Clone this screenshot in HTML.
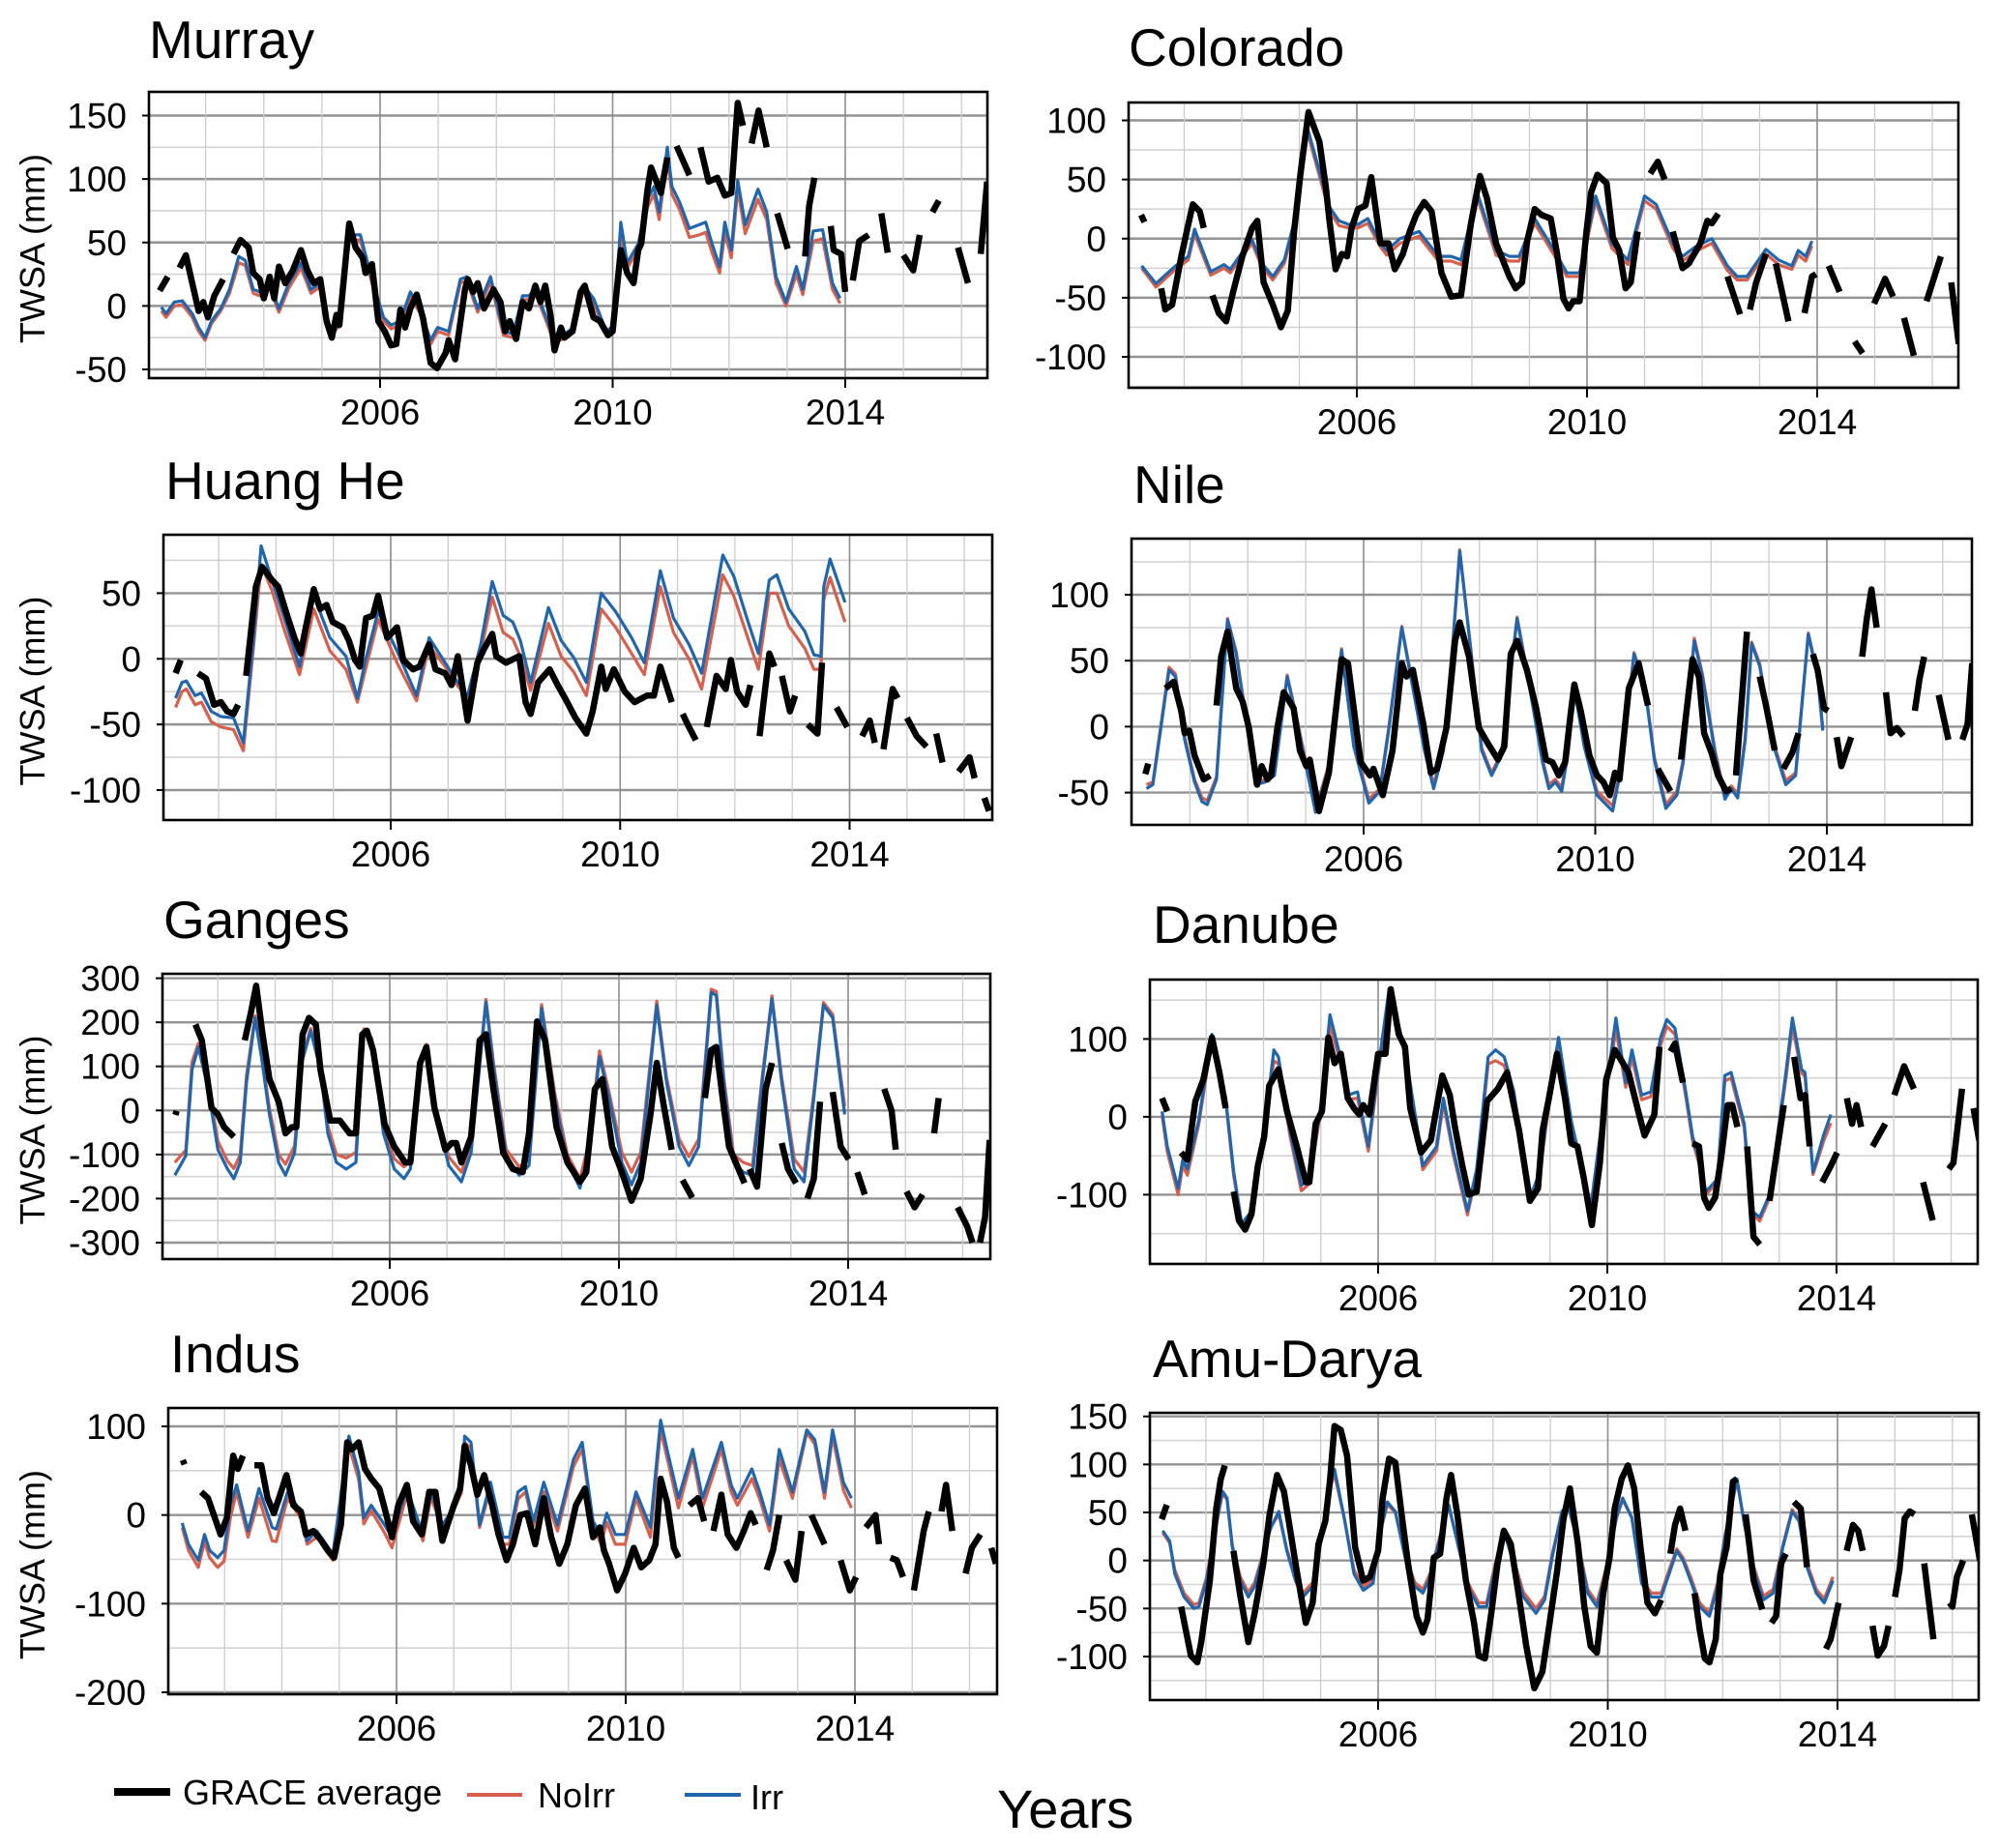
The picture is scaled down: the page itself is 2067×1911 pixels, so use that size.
<!DOCTYPE html>
<html><head><meta charset="utf-8"><title>TWSA basins</title>
<style>
html,body{margin:0;padding:0;background:#fff}
svg{display:block}
text{font-family:"Liberation Sans",sans-serif;fill:#000}
</style></head>
<body>
<svg id="fig" width="2067" height="1911" viewBox="0 0 2067 1911" xmlns="http://www.w3.org/2000/svg">
<rect x="0" y="0" width="2067" height="1911" fill="#fff"/>
<g id="panels"></g>
<g>
  <line x1="118" y1="1853" x2="176" y2="1853" stroke="#000" stroke-width="8"/>
  <text x="189" y="1866" font-size="36" font-family="DejaVu Sans, sans-serif">GRACE average</text>
  <line x1="483" y1="1856" x2="540" y2="1856" stroke="#d6604d" stroke-width="4"/>
  <text x="556" y="1869" font-size="36" font-family="DejaVu Sans, sans-serif">NoIrr</text>
  <line x1="708" y1="1856" x2="766" y2="1856" stroke="#2166ac" stroke-width="4"/>
  <text x="776" y="1871" font-size="36" font-family="DejaVu Sans, sans-serif">Irr</text>
</g>
<text x="1031" y="1890" font-size="56">Years</text>
</svg>
<script>
const xTickYears=[2006,2010,2014];
const murrayTicks=[-50,0,50,100,150];
const coloradoTicks=[-100,-50,0,50,100];
const huangTicks=[-100,-50,0,50];
const nileTicks=[-50,0,50,100];
const gangesTicks=[-300,-200,-100,0,100,200,300];
const danubeTicks=[-100,0,100];
const indusTicks=[-200,-100,0,100];
const amuTicks=[-100,-50,0,50,100,150];

const murrayGrace=[[2002.21,12],[2002.35,23],[2002.45,null],[2002.55,30],[2002.66,40],[2002.77,18],[2002.88,-4],[2002.96,3],[2003.04,-9],[2003.15,8],[2003.3,21],[2003.39,null],[2003.48,41],[2003.6,52],[2003.74,46],[2003.82,26],[2003.93,21],[2004.0,6],[2004.1,23],[2004.18,6],[2004.26,31],[2004.37,18],[2004.5,28],[2004.64,44],[2004.75,28],[2004.86,18],[2004.97,21],[2005.08,-12],[2005.17,-25],[2005.25,-7],[2005.3,-15],[2005.47,65],[2005.58,46],[2005.7,38],[2005.75,26],[2005.86,33],[2005.97,-12],[2006.08,-20],[2006.19,-31],[2006.28,-30],[2006.35,-3],[2006.43,-17],[2006.52,-2],[2006.63,9],[2006.74,-10],[2006.87,-45],[2006.98,-49],[2007.13,-37],[2007.18,-27],[2007.29,-42],[2007.46,13],[2007.51,21],[2007.6,11],[2007.68,18],[2007.79,-2],[2007.95,13],[2008.07,3],[2008.15,-20],[2008.23,-12],[2008.34,-26],[2008.45,3],[2008.56,-2],[2008.67,16],[2008.76,3],[2008.84,16],[2008.93,-7],[2009.0,-35],[2009.11,-17],[2009.17,-25],[2009.31,-20],[2009.45,11],[2009.52,16],[2009.67,-9],[2009.78,-12],[2009.92,-23],[2010.0,-20],[2010.14,44],[2010.25,26],[2010.36,18],[2010.44,44],[2010.49,49],[2010.6,92],[2010.66,109],[2010.83,89],[2010.94,117],[2011.02,null],[2011.1,126],[2011.32,103],[2011.4,null],[2011.51,125],[2011.65,98],[2011.8,101],[2011.93,87],[2012.04,89],[2012.15,160],[2012.24,142],[2012.3,null],[2012.39,128],[2012.51,154],[2012.65,125],[2012.74,null],[2012.83,73],[2013.01,45],[2013.2,null],[2013.31,39],[2013.38,79],[2013.47,101],[2013.6,null],[2013.75,63],[2013.8,44],[2013.93,41],[2014.0,11],[2014.06,null],[2014.13,20],[2014.24,51],[2014.4,56],[2014.5,null],[2014.62,73],[2014.73,42],[2014.85,null],[2015.0,40],[2015.17,28],[2015.28,56],[2015.4,null],[2015.5,74],[2015.61,83],[2015.8,null],[2015.94,46],[2016.11,18],[2016.2,null],[2016.33,41],[2016.44,98]];
const murrayIrr=[[2002.24,-1],[2002.32,-6],[2002.46,3],[2002.6,4],[2002.77,-6],[2002.88,-17],[2002.99,-25],[2003.1,-12],[2003.26,-2],[2003.41,13],[2003.57,39],[2003.68,36],[2003.82,13],[2003.93,11],[2004.09,18],[2004.26,-2],[2004.43,18],[2004.64,34],[2004.81,13],[2004.97,18],[2005.14,-22],[2005.3,-12],[2005.47,56],[2005.66,56],[2005.86,21],[2006.06,-9],[2006.19,-15],[2006.35,-12],[2006.52,11],[2006.68,-2],[2006.87,-27],[2006.99,-17],[2007.18,-20],[2007.38,21],[2007.49,23],[2007.68,-2],[2007.9,23],[2008.12,-20],[2008.29,-22],[2008.45,8],[2008.56,8],[2008.67,13],[2008.84,-7],[2009.0,-27],[2009.17,-22],[2009.33,-17],[2009.5,16],[2009.67,6],[2009.89,-20],[2010.03,-15],[2010.14,66],[2010.25,34],[2010.44,49],[2010.6,84],[2010.71,94],[2010.8,74],[2010.94,125],[2011.02,94],[2011.15,82],[2011.32,61],[2011.49,64],[2011.6,66],[2011.71,49],[2011.84,31],[2011.93,66],[2012.04,44],[2012.15,99],[2012.28,64],[2012.5,92],[2012.65,74],[2012.81,23],[2012.98,3],[2013.16,31],[2013.27,13],[2013.45,59],[2013.61,60],[2013.78,18],[2013.91,6]];
const murrayNoIrr=[[2002.24,-4],[2002.32,-9],[2002.46,0],[2002.6,1],[2002.77,-9],[2002.88,-20],[2002.99,-27],[2003.1,-14],[2003.26,-4],[2003.41,10],[2003.57,34],[2003.68,32],[2003.82,10],[2003.93,8],[2004.09,15],[2004.26,-5],[2004.43,14],[2004.64,30],[2004.81,10],[2004.97,15],[2005.14,-25],[2005.3,-15],[2005.47,52],[2005.66,52],[2005.86,18],[2006.06,-12],[2006.19,-18],[2006.35,-15],[2006.52,7],[2006.68,-5],[2006.87,-30],[2006.99,-20],[2007.18,-23],[2007.38,18],[2007.49,20],[2007.68,-5],[2007.9,19],[2008.12,-23],[2008.29,-25],[2008.45,5],[2008.56,5],[2008.67,10],[2008.84,-10],[2009.0,-30],[2009.17,-25],[2009.33,-20],[2009.5,13],[2009.67,3],[2009.89,-23],[2010.03,-18],[2010.14,58],[2010.25,30],[2010.44,44],[2010.6,78],[2010.71,88],[2010.8,68],[2010.94,118],[2011.02,88],[2011.15,76],[2011.32,54],[2011.49,56],[2011.6,58],[2011.71,42],[2011.84,26],[2011.93,58],[2012.04,38],[2012.15,92],[2012.28,57],[2012.5,84],[2012.65,68],[2012.81,18],[2012.98,0],[2013.16,25],[2013.27,9],[2013.45,51],[2013.61,53],[2013.78,13],[2013.91,2]];

const coloradoGrace=[[2002.25,20],[2002.31,14],[2002.45,null],[2002.6,-42],[2002.67,-60],[2002.79,-56],[2002.95,-15],[2003.07,12],[2003.15,29],[2003.27,23],[2003.34,9],[2003.42,null],[2003.49,-48],[2003.6,-63],[2003.73,-70],[2003.85,-45],[2004.01,-15],[2004.18,9],[2004.27,15],[2004.38,-37],[2004.54,-56],[2004.68,-75],[2004.8,-61],[2004.91,6],[2005.02,55],[2005.16,107],[2005.35,82],[2005.46,44],[2005.52,17],[2005.63,-26],[2005.74,-13],[2005.83,-15],[2005.91,9],[2006.02,25],[2006.15,28],[2006.25,52],[2006.41,-4],[2006.55,-4],[2006.66,-26],[2006.8,-13],[2006.92,6],[2007.03,20],[2007.17,31],[2007.3,23],[2007.47,-29],[2007.64,-49],[2007.81,-48],[2007.98,12],[2008.14,53],[2008.26,34],[2008.42,-4],[2008.65,-32],[2008.76,-42],[2008.87,-37],[2008.96,-2],[2009.09,25],[2009.21,20],[2009.37,17],[2009.48,-13],[2009.59,-51],[2009.68,-59],[2009.76,-53],[2009.87,-53],[2009.99,6],[2010.07,39],[2010.18,54],[2010.34,47],[2010.45,1],[2010.56,-10],[2010.67,-42],[2010.76,-37],[2010.88,6],[2010.98,null],[2011.1,55],[2011.23,65],[2011.35,50],[2011.42,null],[2011.49,6],[2011.66,-25],[2011.77,-21],[2011.97,-4],[2012.09,15],[2012.17,13],[2012.28,21],[2012.36,null],[2012.44,-32],[2012.66,-64],[2012.75,null],[2012.83,-60],[2012.94,-37],[2013.11,-13],[2013.2,null],[2013.28,-21],[2013.5,-70],[2013.65,null],[2013.78,-63],[2013.91,-32],[2013.98,-30],[2014.1,null],[2014.2,-23],[2014.39,-45],[2014.52,null],[2014.65,-87],[2014.79,-97],[2014.9,null],[2014.99,-55],[2015.18,-34],[2015.32,-49],[2015.42,null],[2015.51,-67],[2015.68,-99],[2015.8,null],[2015.9,-53],[2016.15,-15],[2016.25,null],[2016.33,-37],[2016.46,-89]];
const coloradoIrr=[[2002.26,-23],[2002.51,-38],[2002.85,-23],[2003.07,-15],[2003.18,8],[2003.46,-28],[2003.69,-22],[2003.8,-26],[2003.96,-15],[2004.18,-1],[2004.35,-21],[2004.54,-32],[2004.74,-18],[2004.97,25],[2005.13,96],[2005.52,27],[2005.69,15],[2005.86,12],[2006.02,12],[2006.19,17],[2006.41,-4],[2006.52,-10],[2006.75,0],[2007.08,6],[2007.42,-15],[2007.64,-15],[2007.81,-18],[2008.09,39],[2008.42,-10],[2008.65,-15],[2008.82,-15],[2009.09,17],[2009.43,-10],[2009.65,-29],[2009.87,-29],[2010.15,36],[2010.43,-4],[2010.71,-18],[2011.0,36],[2011.2,29],[2011.49,-4],[2011.66,-15],[2011.88,-7],[2012.17,0],[2012.44,-23],[2012.61,-32],[2012.78,-32],[2013.11,-9],[2013.33,-18],[2013.56,-23],[2013.67,-10],[2013.8,-15],[2013.91,-2]];
const coloradoNoIrr=[[2002.26,-25],[2002.51,-41],[2002.85,-26],[2003.07,-18],[2003.18,4],[2003.46,-31],[2003.69,-25],[2003.8,-29],[2003.96,-18],[2004.18,-4],[2004.35,-24],[2004.54,-35],[2004.74,-21],[2004.97,21],[2005.13,92],[2005.52,23],[2005.69,11],[2005.86,9],[2006.02,9],[2006.19,13],[2006.41,-7],[2006.52,-14],[2006.75,-4],[2007.08,2],[2007.42,-19],[2007.64,-19],[2007.81,-22],[2008.09,35],[2008.42,-14],[2008.65,-19],[2008.82,-19],[2009.09,13],[2009.43,-14],[2009.65,-32],[2009.87,-32],[2010.15,32],[2010.43,-8],[2010.71,-22],[2011.0,32],[2011.2,25],[2011.49,-8],[2011.66,-19],[2011.88,-11],[2012.17,-4],[2012.44,-27],[2012.61,-35],[2012.78,-35],[2013.11,-13],[2013.33,-22],[2013.56,-26],[2013.67,-14],[2013.8,-19],[2013.91,-6]];

const huangGrace=[[2002.25,-11],[2002.34,-1],[2002.5,null],[2002.64,-11],[2002.78,-15],[2002.92,-35],[2003.04,-33],[2003.15,-40],[2003.26,-42],[2003.34,-35],[2003.41,null],[2003.48,-13],[2003.65,55],[2003.76,70],[2003.93,60],[2004.04,55],[2004.21,31],[2004.32,16],[2004.43,4],[2004.52,24],[2004.66,53],[2004.77,38],[2004.88,41],[2004.99,28],[2005.16,24],[2005.27,14],[2005.38,-1],[2005.46,-6],[2005.57,31],[2005.69,33],[2005.78,48],[2005.94,16],[2006.11,24],[2006.22,-1],[2006.39,-8],[2006.5,-6],[2006.67,11],[2006.78,-8],[2006.95,-11],[2007.06,-20],[2007.17,2],[2007.34,-47],[2007.51,-3],[2007.62,7],[2007.77,19],[2007.84,2],[2008.01,-3],[2008.24,2],[2008.35,-33],[2008.44,-42],[2008.57,-18],[2008.77,-8],[2008.91,-20],[2009.04,-30],[2009.22,-45],[2009.41,-57],[2009.52,-40],[2009.67,-6],[2009.75,-23],[2009.89,-8],[2010.08,-25],[2010.25,-33],[2010.47,-28],[2010.59,-28],[2010.7,-6],[2010.9,-33],[2011.0,null],[2011.09,-42],[2011.2,-52],[2011.32,-62],[2011.42,null],[2011.51,-52],[2011.68,-13],[2011.84,-23],[2011.93,-1],[2012.04,-25],[2012.19,-35],[2012.27,-20],[2012.35,null],[2012.43,-59],[2012.6,4],[2012.69,-6],[2012.75,null],[2012.82,-13],[2012.96,-40],[2013.05,-28],[2013.16,null],[2013.27,-50],[2013.44,-57],[2013.52,-3],[2013.65,null],[2013.77,-37],[2013.96,-52],[2014.1,null],[2014.22,-59],[2014.35,-47],[2014.44,-64],[2014.52,null],[2014.59,-69],[2014.75,-23],[2014.84,-30],[2014.92,null],[2015.0,-45],[2015.17,-59],[2015.34,-67],[2015.42,null],[2015.51,-57],[2015.62,-79],[2015.78,null],[2015.9,-86],[2016.09,-75],[2016.18,-91],[2016.27,null],[2016.35,-106],[2016.43,-116]];
const huangIrr=[[2002.25,-30],[2002.36,-18],[2002.44,-17],[2002.59,-28],[2002.7,-26],[2002.87,-40],[2003.04,-44],[2003.26,-45],[2003.43,-64],[2003.6,11],[2003.74,86],[2003.93,60],[2004.16,29],[2004.41,-6],[2004.66,48],[2004.94,16],[2005.22,2],[2005.42,-30],[2005.55,-3],[2005.78,36],[2006.11,6],[2006.45,-28],[2006.67,16],[2006.95,-3],[2007.12,-15],[2007.34,-28],[2007.57,11],[2007.77,59],[2007.96,33],[2008.13,28],[2008.26,14],[2008.44,-18],[2008.75,39],[2008.97,14],[2009.19,1],[2009.41,-18],[2009.67,50],[2009.92,36],[2010.2,16],[2010.42,-3],[2010.7,67],[2010.93,31],[2011.2,11],[2011.42,-11],[2011.79,79],[2011.98,63],[2012.21,31],[2012.41,4],[2012.6,60],[2012.73,64],[2012.94,38],[2013.22,21],[2013.38,3],[2013.5,2],[2013.55,55],[2013.66,76],[2013.92,43]];
const huangNoIrr=[[2002.25,-37],[2002.36,-25],[2002.44,-23],[2002.59,-35],[2002.7,-33],[2002.87,-48],[2003.04,-52],[2003.26,-54],[2003.43,-70],[2003.6,5],[2003.74,72],[2003.93,52],[2004.16,20],[2004.41,-12],[2004.66,38],[2004.94,6],[2005.22,-8],[2005.42,-33],[2005.55,-10],[2005.78,30],[2006.11,-3],[2006.45,-32],[2006.67,10],[2006.95,-6],[2007.12,-18],[2007.34,-30],[2007.57,5],[2007.77,47],[2007.96,20],[2008.13,15],[2008.26,2],[2008.44,-24],[2008.75,27],[2008.97,2],[2009.19,-10],[2009.41,-28],[2009.67,38],[2009.92,24],[2010.2,4],[2010.42,-12],[2010.7,55],[2010.93,20],[2011.2,0],[2011.42,-23],[2011.79,64],[2011.98,48],[2012.21,18],[2012.41,-8],[2012.6,50],[2012.73,50],[2012.94,25],[2013.22,8],[2013.38,-8],[2013.5,-8],[2013.55,45],[2013.66,62],[2013.92,28]];

const nileGrace=[[2002.23,-36],[2002.28,-28],[2002.45,null],[2002.58,29],[2002.72,34],[2002.85,12],[2002.91,-5],[2002.99,-3],[2003.08,-22],[2003.24,-40],[2003.35,-37],[2003.41,null],[2003.46,16],[2003.54,53],[2003.65,72],[2003.8,29],[2003.91,19],[2004.02,-1],[2004.16,-44],[2004.24,-30],[2004.34,-40],[2004.4,-37],[2004.51,-1],[2004.62,26],[2004.79,14],[2004.9,-18],[2005.01,-30],[2005.07,-25],[2005.23,-64],[2005.4,-35],[2005.62,51],[2005.73,48],[2005.95,-27],[2006.11,-37],[2006.17,-32],[2006.33,-52],[2006.5,-18],[2006.66,48],[2006.74,38],[2006.85,43],[2007.03,2],[2007.16,-35],[2007.27,-32],[2007.43,-1],[2007.58,65],[2007.66,79],[2007.82,53],[2007.99,-1],[2008.15,-13],[2008.32,-25],[2008.43,-15],[2008.54,55],[2008.65,65],[2008.82,43],[2008.98,14],[2009.15,-25],[2009.26,-27],[2009.37,-37],[2009.48,-27],[2009.57,8],[2009.64,32],[2009.75,12],[2009.9,-22],[2010.03,-37],[2010.14,-42],[2010.25,-52],[2010.34,-35],[2010.42,-40],[2010.58,29],[2010.75,48],[2010.91,16],[2011.0,null],[2011.08,-32],[2011.3,-49],[2011.4,null],[2011.48,-25],[2011.68,51],[2011.79,38],[2011.88,-5],[2012.01,-20],[2012.12,-37],[2012.26,-49],[2012.35,-47],[2012.39,null],[2012.43,-37],[2012.62,72],[2012.72,null],[2012.84,38],[2012.95,16],[2013.1,-18],[2013.17,null],[2013.25,-32],[2013.4,-20],[2013.51,-5],[2013.63,null],[2013.76,55],[2013.84,43],[2013.95,14],[2014.02,12],[2014.1,null],[2014.17,-8],[2014.25,-30],[2014.42,-8],[2014.52,null],[2014.61,53],[2014.69,82],[2014.77,104],[2014.86,75],[2014.94,null],[2015.02,26],[2015.1,-5],[2015.21,-1],[2015.32,-7],[2015.42,null],[2015.52,12],[2015.6,36],[2015.68,53],[2015.8,null],[2015.93,24],[2016.1,-10],[2016.22,null],[2016.34,-10],[2016.43,2],[2016.51,48]];
const nileIrr=[[2002.25,-47],[2002.36,-44],[2002.64,43],[2002.75,38],[2002.91,-10],[2003.08,-42],[2003.21,-57],[2003.3,-59],[2003.46,-40],[2003.65,81],[2003.8,55],[2004.02,-10],[2004.13,-44],[2004.3,-42],[2004.46,-37],[2004.68,38],[2004.85,4],[2005.04,-37],[2005.17,-65],[2005.39,-32],[2005.62,58],[2005.83,-15],[2006.09,-58],[2006.28,-49],[2006.44,-1],[2006.66,75],[2006.83,34],[2007.05,-18],[2007.21,-47],[2007.38,-18],[2007.55,68],[2007.66,133],[2007.82,70],[2008.04,-18],[2008.21,-37],[2008.38,-22],[2008.65,82],[2008.87,29],[2009.09,-27],[2009.2,-47],[2009.31,-42],[2009.42,-49],[2009.53,-20],[2009.64,29],[2009.81,-15],[2010.03,-52],[2010.3,-64],[2010.47,-27],[2010.67,55],[2010.86,29],[2011.02,-25],[2011.22,-62],[2011.41,-52],[2011.52,-27],[2011.71,65],[2011.85,38],[2012.07,-20],[2012.24,-55],[2012.35,-47],[2012.46,-54],[2012.59,-10],[2012.7,63],[2012.84,46],[2013.07,-13],[2013.29,-44],[2013.46,-37],[2013.68,70],[2013.84,38],[2013.93,-3]];
const nileNoIrr=[[2002.25,-44],[2002.36,-42],[2002.64,45],[2002.75,40],[2002.91,-8],[2003.08,-40],[2003.21,-54],[2003.3,-56],[2003.46,-38],[2003.65,82],[2003.8,57],[2004.02,-8],[2004.13,-42],[2004.3,-40],[2004.46,-35],[2004.68,39],[2004.85,6],[2005.04,-35],[2005.17,-63],[2005.39,-30],[2005.62,59],[2005.83,-13],[2006.09,-55],[2006.28,-47],[2006.44,1],[2006.66,76],[2006.83,36],[2007.05,-16],[2007.21,-44],[2007.38,-16],[2007.55,69],[2007.66,134],[2007.82,71],[2008.04,-16],[2008.21,-35],[2008.38,-20],[2008.65,83],[2008.87,31],[2009.09,-25],[2009.2,-44],[2009.31,-40],[2009.42,-46],[2009.53,-18],[2009.64,31],[2009.81,-13],[2010.03,-49],[2010.3,-60],[2010.47,-25],[2010.67,56],[2010.86,31],[2011.02,-23],[2011.22,-59],[2011.41,-49],[2011.52,-25],[2011.71,67],[2011.85,40],[2012.07,-18],[2012.24,-52],[2012.35,-45],[2012.46,-51],[2012.59,-8],[2012.7,64],[2012.84,48],[2013.07,-11],[2013.29,-41],[2013.46,-35],[2013.68,71],[2013.84,40],[2013.93,-1]];

const gangesGrace=[[2002.26,-10],[2002.28,-1],[2002.45,null],[2002.61,195],[2002.72,159],[2002.89,6],[2003.0,-9],[2003.11,-38],[2003.28,-60],[2003.38,null],[2003.47,159],[2003.58,224],[2003.67,283],[2003.78,173],[2003.9,71],[2004.06,20],[2004.18,-52],[2004.29,-38],[2004.37,-38],[2004.48,173],[2004.59,210],[2004.71,195],[2004.79,93],[2004.96,-23],[2005.13,-23],[2005.3,-52],[2005.41,-52],[2005.52,173],[2005.6,181],[2005.71,137],[2005.91,-31],[2006.08,-82],[2006.27,-118],[2006.36,-118],[2006.53,108],[2006.64,144],[2006.78,6],[2006.97,-89],[2007.08,-74],[2007.16,-74],[2007.25,-118],[2007.42,-60],[2007.57,159],[2007.68,173],[2007.81,49],[2007.98,-96],[2008.15,-133],[2008.32,-140],[2008.43,-52],[2008.57,202],[2008.71,159],[2008.91,-38],[2009.1,-118],[2009.32,-162],[2009.43,-140],[2009.58,49],[2009.71,71],[2009.88,-82],[2010.05,-140],[2010.22,-205],[2010.38,-155],[2010.55,-9],[2010.66,108],[2010.78,13],[2010.92,-89],[2011.0,null],[2011.11,-158],[2011.28,-198],[2011.4,null],[2011.5,28],[2011.61,137],[2011.7,144],[2011.81,28],[2011.92,-82],[2012.06,-125],[2012.19,-165],[2012.24,null],[2012.28,-133],[2012.41,-173],[2012.56,49],[2012.67,108],[2012.76,null],[2012.84,-74],[2012.95,-133],[2013.09,-165],[2013.2,null],[2013.29,-200],[2013.4,-155],[2013.51,20],[2013.62,null],[2013.73,42],[2013.87,-82],[2014.01,-111],[2014.08,null],[2014.16,-140],[2014.29,-191],[2014.45,null],[2014.63,49],[2014.76,-1],[2014.83,-89],[2014.93,null],[2015.02,-184],[2015.16,-220],[2015.3,-191],[2015.4,null],[2015.5,-52],[2015.58,28],[2015.75,null],[2015.91,-220],[2016.08,-264],[2016.17,-300],[2016.23,null],[2016.3,-300],[2016.39,-242],[2016.47,-67]];
const gangesIrr=[[2002.25,-147],[2002.44,-103],[2002.55,93],[2002.66,144],[2002.83,49],[2003.0,-89],[2003.17,-133],[2003.28,-155],[2003.39,-118],[2003.5,64],[2003.65,210],[2003.76,122],[2003.9,-9],[2004.06,-118],[2004.18,-147],[2004.34,-96],[2004.48,115],[2004.62,181],[2004.79,93],[2004.92,-52],[2005.07,-118],[2005.24,-133],[2005.41,-118],[2005.55,181],[2005.69,159],[2005.89,-52],[2006.08,-133],[2006.25,-155],[2006.36,-133],[2006.53,93],[2006.64,144],[2006.81,-9],[2007.03,-125],[2007.25,-162],[2007.42,-96],[2007.68,246],[2007.81,100],[2008.03,-103],[2008.26,-147],[2008.43,-125],[2008.65,232],[2008.88,28],[2009.1,-118],[2009.32,-176],[2009.49,-82],[2009.66,122],[2009.83,28],[2010.05,-118],[2010.22,-169],[2010.38,-118],[2010.66,239],[2010.83,64],[2011.05,-82],[2011.22,-125],[2011.39,-82],[2011.61,268],[2011.7,261],[2011.83,64],[2012.0,-118],[2012.17,-140],[2012.33,-147],[2012.5,64],[2012.67,253],[2012.84,64],[2013.06,-133],[2013.23,-162],[2013.4,28],[2013.57,239],[2013.73,210],[2013.94,-9]];
const gangesNoIrr=[[2002.25,-118],[2002.44,-90],[2002.55,110],[2002.66,152],[2002.83,60],[2003.0,-70],[2003.17,-115],[2003.28,-132],[2003.39,-100],[2003.5,80],[2003.65,215],[2003.76,130],[2003.9,5],[2004.06,-100],[2004.18,-122],[2004.34,-80],[2004.48,125],[2004.62,186],[2004.79,100],[2004.92,-35],[2005.07,-100],[2005.24,-108],[2005.41,-95],[2005.55,185],[2005.69,163],[2005.89,-40],[2006.08,-110],[2006.25,-128],[2006.36,-110],[2006.53,100],[2006.64,150],[2006.81,5],[2007.03,-105],[2007.25,-140],[2007.42,-80],[2007.68,252],[2007.81,110],[2008.03,-88],[2008.26,-128],[2008.43,-110],[2008.65,240],[2008.88,40],[2009.1,-100],[2009.32,-155],[2009.49,-65],[2009.66,135],[2009.83,40],[2010.05,-95],[2010.22,-140],[2010.38,-95],[2010.66,248],[2010.83,75],[2011.05,-65],[2011.22,-105],[2011.39,-65],[2011.61,275],[2011.7,270],[2011.83,75],[2012.0,-100],[2012.17,-118],[2012.33,-125],[2012.5,75],[2012.67,260],[2012.84,75],[2013.06,-110],[2013.23,-140],[2013.4,40],[2013.57,245],[2013.73,218],[2013.94,10]];

const danubeGrace=[[2002.23,24],[2002.32,7],[2002.45,null],[2002.56,-46],[2002.67,-55],[2002.81,20],[2002.95,48],[2003.1,102],[2003.23,57],[2003.34,11],[2003.41,null],[2003.48,-96],[2003.57,-133],[2003.68,-145],[2003.79,-125],[2003.9,-63],[2004.01,-26],[2004.1,40],[2004.26,61],[2004.41,7],[2004.58,-38],[2004.74,-84],[2004.8,-84],[2004.91,-9],[2005.02,7],[2005.13,102],[2005.24,69],[2005.35,81],[2005.47,24],[2005.58,11],[2005.67,3],[2005.74,15],[2005.85,3],[2006.0,81],[2006.13,81],[2006.22,164],[2006.36,106],[2006.47,90],[2006.56,11],[2006.75,-46],[2006.92,-30],[2007.12,53],[2007.25,28],[2007.34,-13],[2007.47,-63],[2007.58,-100],[2007.72,-96],[2007.9,20],[2008.09,36],[2008.25,57],[2008.46,-18],[2008.65,-108],[2008.79,-92],[2008.87,-18],[2008.98,24],[2009.12,81],[2009.26,24],[2009.37,-34],[2009.48,-38],[2009.59,-79],[2009.73,-139],[2009.87,-59],[2009.98,48],[2010.13,86],[2010.24,73],[2010.37,57],[2010.54,7],[2010.65,-24],[2010.82,3],[2010.88,57],[2010.91,90],[2011.0,null],[2011.1,84],[2011.18,94],[2011.32,44],[2011.4,null],[2011.49,-34],[2011.6,-38],[2011.69,-104],[2011.77,-117],[2011.88,-104],[2011.99,-51],[2012.1,15],[2012.18,15],[2012.27,-13],[2012.35,null],[2012.44,-38],[2012.55,-154],[2012.66,-164],[2012.75,null],[2012.83,-108],[2013.08,15],[2013.17,null],[2013.26,77],[2013.37,24],[2013.45,28],[2013.53,-38],[2013.65,null],[2013.75,-84],[2013.9,-63],[2014.01,-46],[2014.1,null],[2014.18,24],[2014.27,-9],[2014.35,15],[2014.43,-13],[2014.53,null],[2014.63,-38],[2014.85,-9],[2014.93,null],[2015.01,28],[2015.18,65],[2015.35,36],[2015.43,null],[2015.51,-84],[2015.68,-133],[2015.8,null],[2015.96,-67],[2016.04,-59],[2016.19,36],[2016.29,null],[2016.39,11],[2016.49,-30]];
const danubeIrr=[[2002.23,7],[2002.32,-38],[2002.51,-92],[2002.59,-55],[2002.67,-67],[2002.87,-5],[2003.1,106],[2003.34,24],[2003.48,-71],[2003.62,-137],[2003.79,-121],[2004.01,-18],[2004.18,86],[2004.26,77],[2004.46,-18],[2004.66,-88],[2004.8,-80],[2005.02,24],[2005.16,131],[2005.31,86],[2005.47,28],[2005.64,32],[2005.83,-38],[2006.0,61],[2006.19,164],[2006.47,86],[2006.69,-18],[2006.78,-63],[2007.02,-38],[2007.14,24],[2007.31,-42],[2007.56,-121],[2007.72,-67],[2007.92,77],[2008.05,86],[2008.2,77],[2008.37,32],[2008.65,-104],[2008.82,-71],[2009.02,44],[2009.15,102],[2009.37,-5],[2009.71,-117],[2009.98,36],[2010.15,127],[2010.32,44],[2010.43,86],[2010.6,28],[2010.76,32],[2010.93,102],[2011.04,125],[2011.18,114],[2011.36,36],[2011.49,-26],[2011.6,-55],[2011.72,-96],[2011.92,-80],[2012.05,53],[2012.16,57],[2012.39,-9],[2012.52,-121],[2012.66,-129],[2012.83,-100],[2013.11,53],[2013.23,127],[2013.39,61],[2013.45,57],[2013.59,-71],[2013.78,-22],[2013.9,3]];
const danubeNoIrr=[[2002.23,2],[2002.32,-45],[2002.51,-100],[2002.59,-62],[2002.67,-75],[2002.87,-10],[2003.1,100],[2003.34,20],[2003.48,-76],[2003.62,-140],[2003.79,-125],[2004.01,-22],[2004.18,72],[2004.26,68],[2004.46,-24],[2004.66,-95],[2004.8,-86],[2005.02,18],[2005.16,118],[2005.31,78],[2005.47,22],[2005.64,24],[2005.83,-44],[2006.0,55],[2006.19,158],[2006.47,80],[2006.69,-24],[2006.78,-68],[2007.02,-44],[2007.14,18],[2007.31,-48],[2007.56,-126],[2007.72,-72],[2007.92,68],[2008.05,72],[2008.2,66],[2008.37,26],[2008.65,-108],[2008.82,-76],[2009.02,38],[2009.15,92],[2009.37,-10],[2009.71,-120],[2009.98,30],[2010.15,112],[2010.32,38],[2010.43,76],[2010.6,22],[2010.76,26],[2010.93,92],[2011.04,116],[2011.18,106],[2011.36,30],[2011.49,-32],[2011.6,-60],[2011.72,-100],[2011.92,-84],[2012.05,46],[2012.16,50],[2012.39,-14],[2012.52,-124],[2012.66,-134],[2012.83,-104],[2013.11,46],[2013.23,116],[2013.39,56],[2013.45,52],[2013.59,-74],[2013.78,-30],[2013.9,-8]];

const indusGrace=[[2002.27,62],[2002.3,57],[2002.45,null],[2002.59,26],[2002.71,19],[2002.93,-22],[2003.04,-3],[2003.15,67],[2003.23,52],[2003.32,67],[2003.42,null],[2003.52,56],[2003.64,56],[2003.75,19],[2003.86,2],[2003.97,23],[2004.08,45],[2004.2,11],[2004.33,4],[2004.42,-22],[2004.55,-18],[2004.69,-29],[2004.8,-40],[2004.91,-48],[2005.03,-11],[2005.14,82],[2005.22,74],[2005.34,82],[2005.45,52],[2005.56,41],[2005.7,30],[2005.79,8],[2005.92,-25],[2006.03,11],[2006.18,34],[2006.29,-7],[2006.44,-22],[2006.57,26],[2006.68,26],[2006.8,-29],[2006.91,-7],[2007.0,11],[2007.11,30],[2007.19,78],[2007.3,56],[2007.41,23],[2007.53,45],[2007.67,11],[2007.78,-22],[2007.92,-51],[2008.03,-33],[2008.16,0],[2008.28,2],[2008.42,-33],[2008.57,19],[2008.7,-25],[2008.84,-55],[2008.98,-33],[2009.13,11],[2009.29,30],[2009.43,-25],[2009.55,-14],[2009.62,-40],[2009.71,-55],[2009.85,-85],[2009.99,-66],[2010.14,-37],[2010.27,-59],[2010.41,-51],[2010.52,-33],[2010.61,41],[2010.72,15],[2010.84,-37],[2010.92,-48],[2011.0,null],[2011.11,11],[2011.26,19],[2011.37,-7],[2011.45,null],[2011.53,-18],[2011.67,23],[2011.78,-22],[2011.93,-37],[2012.06,-18],[2012.18,2],[2012.27,-11],[2012.37,null],[2012.46,-62],[2012.57,-40],[2012.68,0],[2012.74,null],[2012.8,-51],[2012.96,-73],[2013.07,-18],[2013.15,null],[2013.24,0],[2013.47,-33],[2013.6,null],[2013.75,-51],[2013.91,-85],[2014.02,-70],[2014.1,null],[2014.19,-14],[2014.36,0],[2014.42,-33],[2014.52,null],[2014.62,-48],[2014.73,-51],[2014.84,-70],[2014.93,null],[2015.03,-85],[2015.2,-18],[2015.29,4],[2015.4,null],[2015.51,4],[2015.59,34],[2015.7,-18],[2015.82,null],[2015.93,-66],[2016.04,-37],[2016.19,-22],[2016.28,null],[2016.38,-37],[2016.46,-55]];
const indusIrr=[[2002.26,-9],[2002.37,-33],[2002.54,-51],[2002.65,-22],[2002.74,-40],[2002.88,-48],[2002.99,-40],[2003.1,11],[2003.21,34],[2003.41,-18],[2003.6,30],[2003.83,-14],[2003.9,-16],[2004.1,26],[2004.33,4],[2004.44,-29],[2004.61,-18],[2004.89,-44],[2005.17,89],[2005.34,48],[2005.43,-3],[2005.56,11],[2005.79,-11],[2005.92,-25],[2006.18,30],[2006.46,-22],[2006.6,26],[2006.8,-11],[2006.96,4],[2007.13,30],[2007.19,89],[2007.3,82],[2007.45,-11],[2007.64,37],[2007.86,-25],[2007.97,-25],[2008.12,26],[2008.25,32],[2008.39,-7],[2008.57,37],[2008.81,-11],[2009.09,63],[2009.24,82],[2009.43,-7],[2009.57,-22],[2009.67,2],[2009.82,-22],[2009.99,-22],[2010.18,26],[2010.43,-14],[2010.61,107],[2010.72,74],[2010.92,19],[2011.17,74],[2011.34,19],[2011.67,82],[2011.84,34],[2011.95,19],[2012.2,52],[2012.34,26],[2012.51,-11],[2012.68,74],[2012.91,26],[2013.16,96],[2013.3,85],[2013.47,26],[2013.61,96],[2013.8,37],[2013.94,19]];
const indusNoIrr=[[2002.26,-14],[2002.37,-40],[2002.54,-59],[2002.65,-30],[2002.74,-48],[2002.88,-59],[2002.99,-52],[2003.1,-3],[2003.21,26],[2003.41,-25],[2003.6,19],[2003.83,-29],[2003.9,-30],[2004.1,19],[2004.33,-4],[2004.44,-33],[2004.61,-25],[2004.89,-51],[2005.17,78],[2005.34,40],[2005.43,-10],[2005.56,5],[2005.79,-20],[2005.92,-37],[2006.18,23],[2006.46,-29],[2006.6,20],[2006.8,-14],[2006.96,0],[2007.13,25],[2007.19,82],[2007.3,75],[2007.45,-14],[2007.64,30],[2007.86,-33],[2007.97,-33],[2008.12,18],[2008.25,26],[2008.39,-12],[2008.57,26],[2008.81,-18],[2009.09,55],[2009.24,74],[2009.43,-12],[2009.57,-33],[2009.67,-8],[2009.82,-33],[2009.99,-33],[2010.18,19],[2010.43,-25],[2010.61,96],[2010.72,65],[2010.92,8],[2011.17,67],[2011.34,8],[2011.67,74],[2011.84,26],[2011.95,11],[2012.2,41],[2012.34,18],[2012.51,-18],[2012.68,63],[2012.91,19],[2013.16,93],[2013.3,80],[2013.47,19],[2013.61,89],[2013.8,28],[2013.94,8]];

const amuGrace=[[2002.23,43],[2002.32,58],[2002.45,null],[2002.57,-48],[2002.74,-99],[2002.85,-106],[2002.92,-85],[2003.07,-21],[2003.18,54],[2003.26,85],[2003.33,99],[2003.41,null],[2003.48,10],[2003.6,-37],[2003.74,-85],[2003.85,-55],[2004.0,-3],[2004.11,48],[2004.24,89],[2004.36,72],[2004.47,31],[2004.58,-10],[2004.74,-65],[2004.86,-44],[2004.96,17],[2005.08,41],[2005.16,82],[2005.24,140],[2005.35,136],[2005.46,109],[2005.6,14],[2005.74,-21],[2005.86,-17],[2006.0,10],[2006.08,65],[2006.19,106],[2006.3,102],[2006.41,48],[2006.52,-3],[2006.67,-58],[2006.78,-75],[2006.86,-61],[2006.97,3],[2007.08,7],[2007.19,65],[2007.27,89],[2007.38,48],[2007.53,-21],[2007.67,-65],[2007.75,-99],[2007.86,-102],[2007.97,-55],[2008.08,-3],[2008.19,31],[2008.31,17],[2008.45,-37],[2008.58,-89],[2008.72,-133],[2008.86,-116],[2008.97,-72],[2009.12,-10],[2009.23,44],[2009.34,75],[2009.48,17],[2009.59,-48],[2009.7,-89],[2009.81,-96],[2009.92,-34],[2010.03,3],[2010.12,54],[2010.24,85],[2010.35,99],[2010.46,75],[2010.57,14],[2010.69,-44],[2010.82,-55],[2010.93,-41],[2011.0,null],[2011.09,7],[2011.17,37],[2011.26,54],[2011.35,31],[2011.43,null],[2011.51,-34],[2011.6,-72],[2011.69,-102],[2011.77,-106],[2011.88,-82],[2011.96,-14],[2012.07,14],[2012.18,82],[2012.25,85],[2012.32,null],[2012.4,48],[2012.54,-21],[2012.69,-51],[2012.77,null],[2012.85,-65],[2012.93,-58],[2013.02,-3],[2013.1,7],[2013.17,null],[2013.24,61],[2013.36,54],[2013.47,-7],[2013.63,null],[2013.8,-92],[2013.88,-82],[2014.02,-44],[2014.09,null],[2014.16,10],[2014.27,37],[2014.36,31],[2014.44,10],[2014.52,null],[2014.61,-68],[2014.7,-99],[2014.81,-89],[2014.89,-68],[2014.95,null],[2015.0,-38],[2015.08,-10],[2015.17,44],[2015.26,51],[2015.34,48],[2015.42,null],[2015.51,-3],[2015.67,-82],[2015.8,null],[2015.95,-44],[2016.0,-48],[2016.08,-17],[2016.19,0],[2016.26,null],[2016.34,48],[2016.48,0]];
const amuIrr=[[2002.25,31],[2002.37,20],[2002.46,-14],[2002.62,-38],[2002.79,-50],[2002.88,-48],[2003.01,-21],[2003.12,17],[2003.29,72],[2003.37,65],[2003.46,14],[2003.6,-21],[2003.74,-38],[2003.85,-27],[2004.02,10],[2004.13,34],[2004.27,51],[2004.41,10],[2004.56,-21],[2004.69,-38],[2004.86,-27],[2005.02,24],[2005.13,72],[2005.24,95],[2005.41,44],[2005.58,-14],[2005.74,-31],[2005.91,-24],[2006.02,24],[2006.16,61],[2006.3,51],[2006.47,3],[2006.64,-27],[2006.78,-34],[2006.91,-17],[2007.08,24],[2007.23,58],[2007.36,24],[2007.56,-27],[2007.75,-48],[2007.89,-48],[2008.03,-10],[2008.19,31],[2008.36,-3],[2008.53,-38],[2008.75,-55],[2008.9,-41],[2009.03,3],[2009.2,51],[2009.31,58],[2009.48,17],[2009.65,-34],[2009.81,-48],[2009.98,-10],[2010.15,44],[2010.26,65],[2010.42,44],[2010.59,-24],[2010.76,-38],[2010.93,-38],[2011.09,-10],[2011.2,10],[2011.31,0],[2011.46,-24],[2011.6,-48],[2011.77,-58],[2011.91,-27],[2012.04,24],[2012.25,85],[2012.38,37],[2012.54,-10],[2012.71,-41],[2012.88,-34],[2013.05,14],[2013.21,51],[2013.33,41],[2013.47,-7],[2013.63,-34],[2013.77,-44],[2013.92,-21]];
const amuNoIrr=[[2002.25,29],[2002.37,18],[2002.46,-10],[2002.62,-34],[2002.79,-46],[2002.88,-44],[2003.01,-18],[2003.12,19],[2003.29,70],[2003.37,63],[2003.46,16],[2003.6,-17],[2003.74,-33],[2003.85,-23],[2004.02,12],[2004.13,35],[2004.27,48],[2004.41,12],[2004.56,-17],[2004.69,-34],[2004.86,-23],[2005.02,26],[2005.13,70],[2005.24,90],[2005.41,44],[2005.58,-10],[2005.74,-27],[2005.91,-20],[2006.02,26],[2006.16,58],[2006.3,50],[2006.47,6],[2006.64,-23],[2006.78,-30],[2006.91,-13],[2007.08,26],[2007.23,56],[2007.36,26],[2007.56,-23],[2007.75,-44],[2007.89,-44],[2008.03,-6],[2008.19,30],[2008.36,1],[2008.53,-33],[2008.75,-50],[2008.9,-37],[2009.03,6],[2009.2,50],[2009.31,56],[2009.48,19],[2009.65,-30],[2009.81,-44],[2009.98,-6],[2010.15,45],[2010.26,63],[2010.42,45],[2010.59,-20],[2010.76,-34],[2010.93,-34],[2011.09,-6],[2011.2,12],[2011.31,3],[2011.46,-20],[2011.6,-44],[2011.77,-55],[2011.91,-23],[2012.04,26],[2012.25,83],[2012.38,38],[2012.54,-6],[2012.71,-37],[2012.88,-30],[2013.05,16],[2013.21,53],[2013.33,43],[2013.47,-3],[2013.63,-30],[2013.77,-40],[2013.92,-17]];

const NS='http://www.w3.org/2000/svg';
function el(tag,attrs,parent){const e=document.createElementNS(NS,tag);for(const k in attrs)e.setAttribute(k,attrs[k]);if(parent)parent.appendChild(e);return e;}

const layouts=[
 {key:'murray',title:'Murray',tx:154,ty:60,L:154,R:1021,T:95,B:391,x6:393,x14:874,v1:150,p1:119.5,v2:-50,p2:382,minor:25,ylab:true,ticks:murrayTicks,g:murrayGrace,irr:murrayIrr,no:murrayNoIrr},
 {key:'colorado',title:'Colorado',tx:1167,ty:68,L:1167,R:2025,T:106,B:401,x6:1403,x14:1879,v1:100,p1:124.5,v2:-100,p2:369,minor:25,ylab:false,ticks:coloradoTicks,g:coloradoGrace,irr:coloradoIrr,no:coloradoNoIrr},
 {key:'huang-he',title:'Huang He',tx:171,ty:516,L:169,R:1026,T:553,B:848,x6:404,x14:878.5,v1:50,p1:613.4,v2:-100,p2:817,minor:25,ylab:true,ticks:huangTicks,g:huangGrace,irr:huangIrr,no:huangNoIrr},
 {key:'nile',title:'Nile',tx:1172,ty:520,L:1170,R:2039,T:557,B:853,x6:1410,x14:1889,v1:100,p1:615,v2:-50,p2:819.6,minor:25,ylab:false,ticks:nileTicks,g:nileGrace,irr:nileIrr,no:nileNoIrr},
 {key:'ganges',title:'Ganges',tx:169,ty:970,L:168,R:1024,T:1007,B:1302,x6:403,x14:877,v1:300,p1:1011.6,v2:-300,p2:1285,minor:50,ylab:true,ticks:gangesTicks,g:gangesGrace,irr:gangesIrr,no:gangesNoIrr},
 {key:'danube',title:'Danube',tx:1192,ty:975,L:1189,R:2045,T:1013,B:1307,x6:1425,x14:1899,v1:100,p1:1074.4,v2:-100,p2:1235.4,minor:50,ylab:false,ticks:danubeTicks,g:danubeGrace,irr:danubeIrr,no:danubeNoIrr},
 {key:'indus',title:'Indus',tx:176,ty:1419,L:174,R:1031,T:1456,B:1752,x6:410,x14:884,v1:100,p1:1475,v2:-200,p2:1750,minor:50,ylab:true,ticks:indusTicks,g:indusGrace,irr:indusIrr,no:indusNoIrr},
 {key:'amu-darya',title:'Amu-Darya',tx:1192,ty:1424,L:1189,R:2046,T:1461,B:1758,x6:1425,x14:1900,v1:150,p1:1464.7,v2:-100,p2:1713,minor:25,ylab:false,ticks:amuTicks,g:amuGrace,irr:amuIrr,no:amuNoIrr}
];

const root=document.getElementById('panels');
layouts.forEach((c,i)=>{
  const xs=t=>c.x6+(t-2006)*(c.x14-c.x6)/8;
  const ys=v=>c.p1+(v-c.v1)*(c.p2-c.p1)/(c.v2-c.v1);
  const g=el('g',{},root);
  
  
  const title=el('text',{x:c.tx,y:c.ty,'font-size':55},g);
  title.textContent=c.title;
  
  
  const cid='clip'+i;
  const cp=el('clipPath',{id:cid},g);
  el('rect',{x:c.L,y:c.T,width:c.R-c.L,height:c.B-c.T},cp);
  const grid=el('g',{},g);
  
  
  const vmin=Math.min(...c.ticks)-c.minor*4, vmax=Math.max(...c.ticks)+c.minor*4;
  for(let v=vmin;v<=vmax;v+=c.minor){
    const y=ys(v); if(y<c.T||y>c.B) continue;
    const major=c.ticks.includes(v);
    el('line',{x1:c.L,x2:c.R,y1:y,y2:y,stroke:major?'#939393':'#d4d4d4','stroke-width':major?2.4:1.6},grid);
  }
  for(let yr=2003;yr<=2016;yr++){
    const x=xs(yr); if(x<c.L||x>c.R) continue;
    const major=xTickYears.includes(yr);
    el('line',{x1:x,x2:x,y1:c.T,y2:c.B,stroke:major?'#8e8e8e':'#cccccc','stroke-width':major?1.6:1.3},grid);
  }
  const series=[[c.no,'#d6604d',3.2,'noirr-line'],[c.irr,'#2166ac',3.2,'irr-line'],[c.g,'#000',6.5,'grace-line']];
  series.forEach(([data,col,w,nm])=>{
    let d='',pen=false;
    data.forEach(([t,v])=>{
      if(v===null){pen=false;return;}
      d+=(pen?'L':'M')+xs(t).toFixed(1)+' '+ys(v).toFixed(1)+' ';pen=true;
    });
    const p=el('path',{d:d,fill:'none',stroke:col,'stroke-width':w,'stroke-linejoin':'round','stroke-linecap':'butt','clip-path':'url(#'+cid+')'},g);
    
    
  });
  const frame=el('rect',{x:c.L,y:c.T,width:c.R-c.L,height:c.B-c.T,fill:'none',stroke:'#000','stroke-width':2.6},g);
  
  
  c.ticks.forEach(v=>{
    const y=ys(v);
    el('line',{x1:c.L-7,x2:c.L,y1:y,y2:y,stroke:'#000','stroke-width':2},g);
    const tl=el('text',{x:c.L-23,y:y+13,'font-size':37,'text-anchor':'end'},g);
    tl.textContent=String(v);
    
    
  });
  xTickYears.forEach(yr=>{
    const x=xs(yr);
    el('line',{x1:x,x2:x,y1:c.B,y2:c.B+10,stroke:'#000','stroke-width':2},g);
    const tl=el('text',{x:x,y:c.B+48,'font-size':37,'text-anchor':'middle'},g);
    tl.textContent=String(yr);
    
    
  });
  if(c.ylab){
    const cy=(c.T+c.B)/2+14;
    const yl=el('text',{x:0,y:0,'font-size':36,'text-anchor':'middle','font-family':'DejaVu Sans, sans-serif',transform:'translate(46,'+cy+') rotate(-90)'},g);
    yl.textContent='TWSA (mm)';
    
    
  }
});
</script>
</body></html>
